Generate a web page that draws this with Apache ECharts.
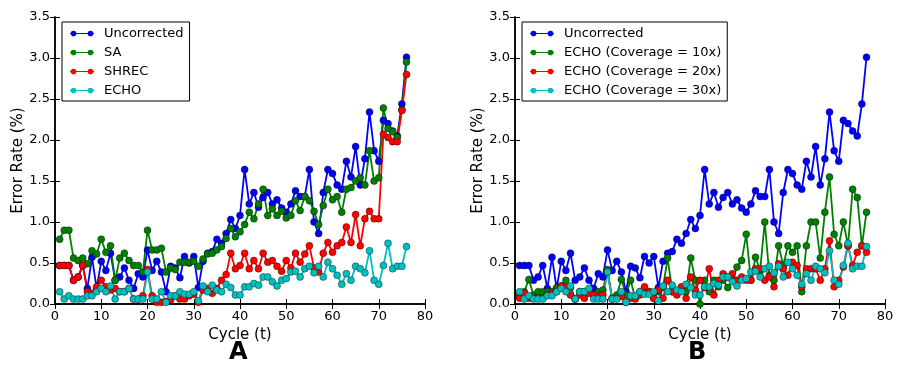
<!DOCTYPE html>
<html>
<head>
<meta charset="utf-8">
<script src="https://cdn.jsdelivr.net/npm/echarts@6/dist/echarts.min.js"></script>
<style>
  html, body { margin: 0; padding: 0; background: #fff; }
  #chart { width: 901px; height: 366px; }
</style>
</head>
<body>
<div id="chart"></div>
<script>
// cycle numbers (x values)
const cycles = [1,2,3,4,5,6,7,8,9,10,11,12,13,14,15,16,17,18,19,20,
  21,22,23,24,25,26,27,28,29,30,31,32,33,34,35,36,37,38,39,40,
  41,42,43,44,45,46,47,48,49,50,51,52,53,54,55,56,57,58,59,60,
  61,62,63,64,65,66,67,68,69,70,71,72,73,74,75,76];

// error rate (%) per cycle
const uncorrected = [0.47,0.47,0.47,0.29,0.33,0.47,0.19,0.57,0.19,0.52,0.41,0.62,0.29,0.33,0.44,0.29,0.19,0.37,0.33,0.66,
  0.41,0.52,0.39,0.15,0.46,0.44,0.32,0.58,0.50,0.58,0.20,0.52,0.62,0.64,0.79,0.74,0.86,1.03,0.92,1.08,
  1.64,1.22,1.36,1.18,1.30,1.36,1.22,1.27,1.17,1.12,1.22,1.38,1.31,1.31,1.64,1.00,0.86,1.36,1.64,1.59,
  1.45,1.40,1.74,1.55,1.92,1.45,1.77,2.34,1.87,1.74,2.24,2.20,2.11,2.05,2.44,3.01];

const sa = [0.79,0.90,0.90,0.56,0.53,0.56,0.49,0.65,0.61,0.79,0.63,0.71,0.29,0.56,0.62,0.53,0.47,0.47,0.39,0.90,
  0.66,0.66,0.68,0.39,0.44,0.42,0.51,0.51,0.51,0.52,0.46,0.55,0.61,0.62,0.66,0.70,0.80,0.92,0.82,0.88,
  0.97,1.12,1.04,1.22,1.40,1.08,1.16,1.08,1.13,1.05,1.08,1.26,1.14,1.31,1.26,1.13,0.97,1.20,1.40,1.27,
  1.31,1.12,1.40,1.42,1.50,1.54,1.45,1.87,1.50,1.54,2.39,2.14,2.10,2.03,2.37,2.95];

const shrec = [0.47,0.47,0.47,0.29,0.33,0.47,0.15,0.13,0.21,0.29,0.21,0.17,0.19,0.15,0.15,0.19,0.06,0.06,0.10,0.42,
  0.10,0.02,0.02,0.03,0.05,0.10,0.06,0.06,0.10,0.12,0.02,0.17,0.19,0.13,0.19,0.29,0.36,0.62,0.43,0.47,
  0.62,0.43,0.53,0.43,0.62,0.51,0.53,0.46,0.40,0.53,0.44,0.62,0.51,0.61,0.71,0.44,0.39,0.62,0.75,0.63,
  0.71,0.75,0.94,0.75,1.09,0.71,1.04,1.13,1.04,1.04,2.07,2.03,1.98,1.98,2.36,2.80];

// ECHO in panel A is the 30x coverage run of panel B
const echo30 = [0.15,0.06,0.10,0.06,0.06,0.06,0.10,0.10,0.15,0.19,0.15,0.22,0.06,0.15,0.15,0.19,0.06,0.06,0.06,0.39,
  0.06,0.06,0.15,0.02,0.10,0.10,0.15,0.12,0.12,0.15,0.04,0.22,0.15,0.23,0.17,0.15,0.24,0.20,0.11,0.11,
  0.21,0.21,0.25,0.23,0.33,0.33,0.27,0.22,0.29,0.31,0.39,0.40,0.33,0.43,0.46,0.38,0.46,0.33,0.51,0.43,
  0.35,0.24,0.37,0.29,0.46,0.43,0.38,0.65,0.29,0.24,0.47,0.74,0.43,0.46,0.46,0.70];

const echo10 = [0.11,0.15,0.30,0.11,0.15,0.15,0.15,0.15,0.20,0.22,0.29,0.20,0.06,0.15,0.15,0.15,0.11,0.15,0.17,0.42,
  0.07,0.11,0.30,0.11,0.29,0.07,0.15,0.19,0.15,0.07,0.15,0.20,0.56,0.15,0.15,0.20,0.15,0.56,0.29,0.00,
  0.29,0.15,0.29,0.21,0.29,0.20,0.29,0.45,0.53,0.85,0.29,0.57,0.41,1.00,0.35,0.29,0.71,0.47,0.71,0.63,
  0.71,0.15,0.71,1.00,1.00,0.56,1.12,1.55,0.85,0.71,1.00,0.71,1.40,1.30,0.71,1.12];

const echo20 = [0.07,0.13,0.07,0.07,0.07,0.07,0.11,0.13,0.15,0.22,0.20,0.11,0.06,0.11,0.07,0.13,0.11,0.09,0.11,0.39,
  0.06,0.07,0.09,0.02,0.07,0.06,0.11,0.21,0.15,0.07,0.17,0.07,0.29,0.15,0.11,0.21,0.07,0.33,0.17,0.29,
  0.20,0.43,0.11,0.29,0.37,0.33,0.37,0.29,0.33,0.29,0.29,0.43,0.43,0.29,0.33,0.21,0.49,0.43,0.35,0.51,
  0.47,0.21,0.43,0.43,0.43,0.29,0.43,0.77,0.21,0.29,0.45,0.71,0.47,0.63,0.71,0.63];

const FONT = 'DejaVu Sans';
const BLUE = '#0000ff', GREEN = '#008000', RED = '#ff0000', CYAN = '#00bfbf';

// line with two dots, like the matplotlib legend handle
const legendIcon = 'path://M0,4.3 H34 V5.7 H0 Z M1,5 A4,4 0 1 1 9,5 A4,4 0 1 1 1,5 Z M25,5 A4,4 0 1 1 33,5 A4,4 0 1 1 25,5 Z';

function pairs(ys) {
  return cycles.map((c, i) => [c, ys[i]]);
}

function makeSeries(name, ys, color, panel) {
  return {
    name: name,
    type: 'line',
    xAxisIndex: panel * 2,
    yAxisIndex: panel * 2,
    data: pairs(ys),
    symbol: 'circle',
    symbolSize: 7,
    showSymbol: true,
    animation: false,
    lineStyle: { color: color, width: 1.8 },
    itemStyle: { color: color, borderColor: 'rgba(0,0,0,0.55)', borderWidth: 0.7 }
  };
}

function axesFor(panel) {
  const g = panel;
  const tick = { show: true, inside: true, length: 5, lineStyle: { color: '#000', width: 1 } };
  const line = { show: true, lineStyle: { color: '#000', width: 1.5 } };
  const label = { fontFamily: FONT, fontSize: 13, color: '#000' };
  const xs = [
    { gridIndex: g, type: 'value', min: 0, max: 80, interval: 10, position: 'bottom',
      name: 'Cycle (t)', nameLocation: 'middle', nameGap: 19,
      nameTextStyle: { fontFamily: FONT, fontSize: 15, color: '#000' },
      axisLine: line, axisTick: tick, splitLine: { show: false },
      axisLabel: Object.assign({ margin: 6 }, label) },
    { gridIndex: g, type: 'value', min: 0, max: 80, interval: 10, position: 'top',
      axisLine: line, axisTick: tick, splitLine: { show: false }, axisLabel: { show: false } }
  ];
  const ys = [
    { gridIndex: g, type: 'value', min: 0, max: 3.5, interval: 0.5, position: 'left',
      name: 'Error Rate (%)', nameLocation: 'middle', nameGap: 28,
      nameTextStyle: { fontFamily: FONT, fontSize: 15, color: '#000' },
      axisLine: line, axisTick: tick, splitLine: { show: false },
      axisLabel: Object.assign({ margin: 5, formatter: v => v.toFixed(1) }, label) },
    { gridIndex: g, type: 'value', min: 0, max: 3.5, interval: 0.5, position: 'right',
      axisLine: line, axisTick: tick, splitLine: { show: false }, axisLabel: { show: false } }
  ];
  return { xs, ys };
}

function legendAt(left, names) {
  return {
    orient: 'vertical',
    left: left,
    top: 22,
    data: names,
    icon: legendIcon,
    itemWidth: 24,
    itemHeight: 7,
    itemGap: 6,
    padding: [5, 6, 4, 8],
    backgroundColor: '#fff',
    borderColor: '#000',
    borderWidth: 1,
    borderRadius: 0,
    selectedMode: false,
    itemStyle: { borderWidth: 0 },
    lineStyle: { width: 0 },
    textStyle: { fontFamily: FONT, fontSize: 13, color: '#000', padding: [0, 0, 0, 5] }
  };
}

const chart = echarts.init(document.getElementById('chart'), null, { renderer: 'canvas' });

const a = axesFor(0), b = axesFor(1);

chart.setOption({
  backgroundColor: '#fff',
  animation: false,
  grid: [
    { left: 55, top: 17, width: 370, height: 287 },
    { left: 515, top: 17, width: 370, height: 287 }
  ],
  xAxis: a.xs.concat(b.xs),
  yAxis: a.ys.concat(b.ys),
  legend: [
    legendAt(62, ['Uncorrected', 'SA', 'SHREC', 'ECHO']),
    legendAt(522, ['Uncorrected', 'ECHO (Coverage = 10x)', 'ECHO (Coverage = 20x)', 'ECHO (Coverage = 30x)'])
  ],
  series: [
    makeSeries('Uncorrected', uncorrected, BLUE, 0),
    makeSeries('SA', sa, GREEN, 0),
    makeSeries('SHREC', shrec, RED, 0),
    makeSeries('ECHO', echo30, CYAN, 0),
    makeSeries('Uncorrected', uncorrected, BLUE, 1),
    makeSeries('ECHO (Coverage = 10x)', echo10, GREEN, 1),
    makeSeries('ECHO (Coverage = 20x)', echo20, RED, 1),
    makeSeries('ECHO (Coverage = 30x)', echo30, CYAN, 1)
  ],
  graphic: [
    { type: 'text', left: 229, top: 341, style: { text: 'A', fontFamily: FONT, fontSize: 24, fontWeight: 'bold', fill: '#000' } },
    { type: 'text', left: 688, top: 341, style: { text: 'B', fontFamily: FONT, fontSize: 24, fontWeight: 'bold', fill: '#000' } }
  ]
});
</script>
</body>
</html>
